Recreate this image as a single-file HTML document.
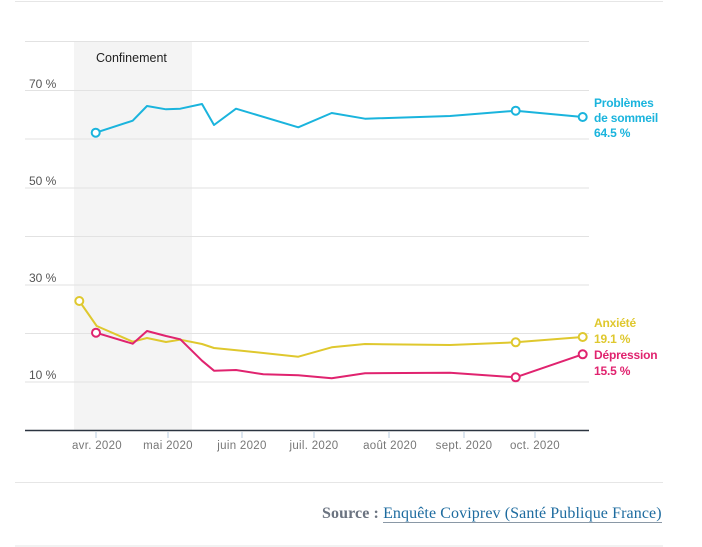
<!DOCTYPE html>
<html><head><meta charset="utf-8"><style>
html,body{margin:0;padding:0;background:#fff;}
body{width:702px;height:547px;overflow:hidden;position:relative;font-family:"Liberation Sans",sans-serif;}
svg{position:absolute;left:0;top:0;}
.src{position:absolute;left:322px;top:505px;font-family:"Liberation Serif",serif;font-size:16px;white-space:nowrap;letter-spacing:0.1px;}
.src b{color:#6b7380;}
.src span{color:#1d6b9f;border-bottom:1px solid #8a98a6;}
</style></head><body>
<svg width="702" height="547" viewBox="0 0 702 547" xmlns="http://www.w3.org/2000/svg">
<line x1="15" y1="1.5" x2="663" y2="1.5" stroke="#e6e6e6" stroke-width="1"/>
<line x1="15" y1="482.5" x2="663" y2="482.5" stroke="#e6e6e6" stroke-width="1"/>
<line x1="15" y1="546" x2="663" y2="546" stroke="#e6e6e6" stroke-width="1"/>
<rect x="74" y="41" width="118" height="389" fill="#f4f4f4"/>
<g stroke="#e2e2e2" stroke-width="1">
<line x1="25" y1="41.5" x2="589" y2="41.5"/>
<line x1="25" y1="90.5" x2="589" y2="90.5"/>
<line x1="25" y1="139" x2="589" y2="139"/>
<line x1="25" y1="188" x2="589" y2="188"/>
<line x1="25" y1="236.5" x2="589" y2="236.5"/>
<line x1="25" y1="285" x2="589" y2="285"/>
<line x1="25" y1="333.5" x2="589" y2="333.5"/>
<line x1="25" y1="382" x2="589" y2="382"/>
</g>
<g font-size="12" fill="#555" font-family="Liberation Sans, sans-serif">
<text x="29" y="88">70 %</text>
<text x="29" y="185">50 %</text>
<text x="29" y="282">30 %</text>
<text x="29" y="379">10 %</text>
</g>
<text x="96" y="62" font-size="12.5" fill="#222">Confinement</text>
<line x1="25" y1="430.5" x2="589" y2="430.5" stroke="#2b3440" stroke-width="1.5"/>
<g stroke="#b8cde0" stroke-width="1">
<line x1="96" y1="432" x2="96" y2="438"/>
<line x1="168" y1="432" x2="168" y2="438"/>
<line x1="242" y1="432" x2="242" y2="438"/>
<line x1="314" y1="432" x2="314" y2="438"/>
<line x1="389" y1="432" x2="389" y2="438"/>
<line x1="464" y1="432" x2="464" y2="438"/>
<line x1="535" y1="432" x2="535" y2="438"/>
</g>
<g font-size="11.5" fill="#777" text-anchor="middle" letter-spacing="0.3">
<text x="97" y="449">avr. 2020</text>
<text x="168" y="449">mai 2020</text>
<text x="242" y="449">juin 2020</text>
<text x="314" y="449">juil. 2020</text>
<text x="390" y="449">août 2020</text>
<text x="464" y="449">sept. 2020</text>
<text x="535" y="449">oct. 2020</text>
</g>
<g fill="none" stroke-width="2" stroke-linejoin="round">
<polyline stroke="#1ab4dd" points="95.7,132.7 132.7,120.7 147,106 166,109.3 180.3,108.7 202,104 214,125 236,108.7 298.3,127.3 331.7,113 365,118.7 450,116 515.7,110.7 582.7,117"/>
<polyline stroke="#dfc82e" points="79.3,301 96.7,326 132.7,341.7 147,338 166,342 180.3,339.7 202,344 214,348 241.7,350.7 298.3,356.7 331.7,347.3 365,344 450,345 515.7,342.3 582.7,337"/>
<polyline stroke="#e0236f" points="96,332.7 132.7,343.7 147,331 166,336 180.3,339.3 202,360.7 214,370.7 236,370 263.3,374.3 298.3,375.3 331.7,378.3 365,373.3 450,372.7 515.7,377.3 582.7,354.3"/>
</g>
<g fill="#fff" stroke-width="2">
<circle cx="95.7" cy="132.7" r="4" stroke="#1ab4dd"/>
<circle cx="515.7" cy="110.7" r="4" stroke="#1ab4dd"/>
<circle cx="582.7" cy="117" r="4" stroke="#1ab4dd"/>
<circle cx="79.3" cy="301" r="4" stroke="#dfc82e"/>
<circle cx="515.7" cy="342.3" r="4" stroke="#dfc82e"/>
<circle cx="582.7" cy="337" r="4" stroke="#dfc82e"/>
<circle cx="96" cy="332.7" r="4" stroke="#e0236f"/>
<circle cx="515.7" cy="377.3" r="4" stroke="#e0236f"/>
<circle cx="582.7" cy="354.3" r="4" stroke="#e0236f"/>
</g>
<g font-size="12" font-weight="bold" letter-spacing="-0.2">
<text x="594" y="107" fill="#1ab4dd">Problèmes</text>
<text x="594" y="122" fill="#1ab4dd">de sommeil</text>
<text x="594" y="137" fill="#1ab4dd">64.5 %</text>
<text x="594" y="327" fill="#dfc82e">Anxiété</text>
<text x="594" y="343" fill="#dfc82e">19.1 %</text>
<text x="594" y="359" fill="#e0236f">Dépression</text>
<text x="594" y="375" fill="#e0236f">15.5 %</text>
</g>
</svg>
<div class="src"><b>Source :</b> <span>Enquête Coviprev (Santé Publique France)</span></div>
</body></html>
